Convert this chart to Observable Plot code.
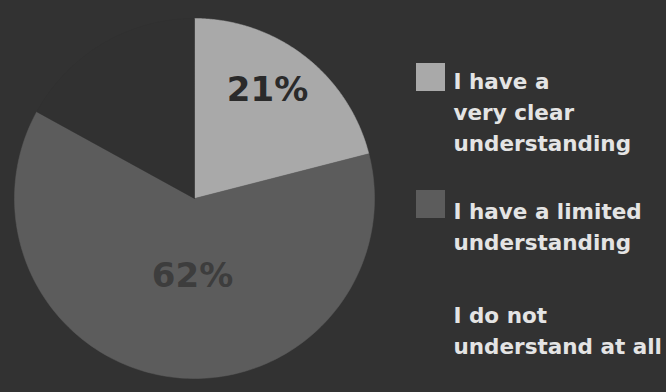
<!DOCTYPE html>
<html>
<head>
<meta charset="utf-8">
<script src="https://cdn.jsdelivr.net/npm/d3@7"></script>
<script src="https://cdn.jsdelivr.net/npm/@observablehq/plot@0.6"></script>
<style>
  html, body { margin: 0; padding: 0; background: #323232; }
  #chart { width: 666px; height: 392px; }
</style>
</head>
<body>
<div id="chart"></div>
<script>
// ---- data ----
const categories = ["I have a very clear understanding", "I have a limited understanding", "I do not understand at all"];
const values = [21, 62, 17];
const valueLabels = ["21%", "62%", ""];
const legendLabels = ["I have a\nvery clear\nunderstanding", "I have a limited\nunderstanding", "I do not\nunderstand at all"];

// ---- styles / layout ----
const sliceColors = ["#a9a9a9", "#5c5c5c", "#313131"];
const bg = "#323232";
const W = 666, H = 392;
const cx = 194, cy = 198, R = 180;
const labelPos = [[267, 90], [192, 276]];
const labelColors = ["#2a2a2a", "#3d3d3d"];
const legendX = 416, legendTextX = 453;
const legendTops = [63, 190, 317];
const legendBaselines = [82, 212, 316];
const fs = 21.5;

// pie slices -> polygons
const arcs = d3.pie().sort(null).value(d => d)(values);
const pts = [];
arcs.forEach((a, i) => {
  pts.push({cat: categories[i], x: cx, y: cy});
  const n = 180;
  for (let k = 0; k <= n; k++) {
    const t = a.startAngle + (a.endAngle - a.startAngle) * k / n;
    pts.push({cat: categories[i], x: cx + R * Math.sin(t), y: cy - R * Math.cos(t)});
  }
  pts.push({cat: categories[i], x: cx, y: cy});
});

const labels = valueLabels.slice(0, 2).map((t, i) => ({t, x: labelPos[i][0], y: labelPos[i][1], c: labelColors[i]}));
const legend = categories.map((c, i) => ({
  cat: c,
  text: legendLabels[i],
  x0: legendX, x1: legendX + 29, y0: legendTops[i], y1: legendTops[i] + 28,
  tx: legendTextX, ty: legendBaselines[i] - 0.71 * fs
}));

const chart = Plot.plot({
  width: W, height: H,
  margin: 0,
  style: {background: bg, overflow: "visible"},
  x: {domain: [0, W], range: [0, W], axis: null},
  y: {domain: [0, H], range: [0, H], axis: null},
  color: {domain: categories, range: sliceColors},
  marks: [
    Plot.line(pts, {x: "x", y: "y", z: "cat", fill: "cat", stroke: "cat", strokeWidth: 0.5, curve: "linear"}),
    Plot.text(labels, {x: "x", y: "y", text: "t", fill: d => d.c, fontSize: 34, fontWeight: "bold", fontFamily: "DejaVu Sans"}),
    Plot.rect(legend.slice(0, 2), {x1: "x0", x2: "x1", y1: "y0", y2: "y1", fill: "cat"}),
    Plot.text(legend, {x: "tx", y: "ty", text: "text", textAnchor: "start", lineAnchor: "top", lineHeight: 31 / fs,
      fill: "#e4e4e4", fontSize: fs, fontWeight: "bold", fontFamily: "DejaVu Sans"})
  ]
});
document.getElementById("chart").appendChild(chart);
</script>
</body>
</html>
